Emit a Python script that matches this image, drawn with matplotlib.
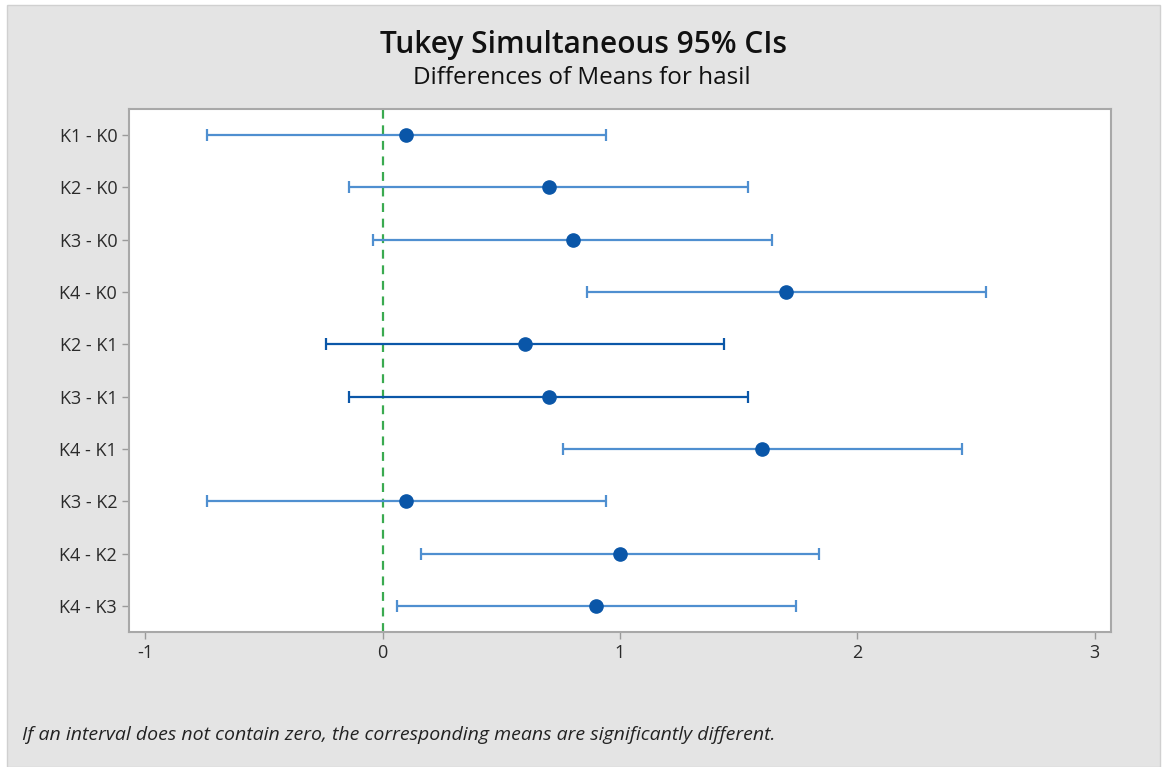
import numpy as np
import matplotlib.pyplot as plt
import matplotlib.patches as mpatches

plt.rcParams['font.family'] = ['Open Sans', 'DejaVu Sans']

# Tukey pairwise comparisons
pairs = ['K1 - K0', 'K2 - K0', 'K3 - K0', 'K4 - K0', 'K2 - K1',
         'K3 - K1', 'K4 - K1', 'K3 - K2', 'K4 - K2', 'K4 - K3']
diff = [0.10, 0.70, 0.80, 1.70, 0.60, 0.70, 1.60, 0.10, 1.00, 0.90]
lower = [-0.74, -0.14, -0.04, 0.86, -0.24, -0.14, 0.76, -0.74, 0.16, 0.06]
upper = [0.94, 1.54, 1.64, 2.54, 1.44, 1.54, 2.44, 0.94, 1.84, 1.74]
line_dark = [False, False, False, False, True, True, False, False, False, False]
xticks = [-1, 0, 1, 2, 3]

fig = plt.figure(figsize=(11.63, 7.67), dpi=100, facecolor='white')
# grey panel behind the graph, like the Minitab window
fig.patches.append(mpatches.Rectangle((7/1163, 0), 1 - 10/1163, 1 - 5/767, transform=fig.transFigure,
                                      facecolor='#e4e4e4', edgecolor='#d0d0d0', lw=1, zorder=-10))

ax = fig.add_axes([129/1163, 1 - 632/767, (1111 - 129)/1163, (632 - 109)/767])
ax.set_facecolor('white')

y = np.arange(len(pairs))
for i in range(len(pairs)):
    col = '#0b57a8' if line_dark[i] else '#4f8fd0'
    ax.errorbar(diff[i], y[i], xerr=[[diff[i] - lower[i]], [upper[i] - diff[i]]],
                fmt='none', ecolor=col, elinewidth=1.6, capsize=4.5, capthick=1.6, zorder=2)
ax.plot(diff, y, 'o', color='#0a56a8', markersize=9.5, zorder=3)

ax.axvline(0, color='#3aaa50', lw=1.6, ls=(0, (4, 3)), zorder=1)

ax.set_xlim(-1.068, 3.068)
ax.set_ylim(len(pairs) - 0.5, -0.5)
ax.set_yticks(y)
ax.set_yticklabels(pairs)
ax.set_xticks(xticks)
ax.set_xticklabels([str(t) for t in xticks])
ax.tick_params(colors='#9a9a9a', labelcolor='#2a2a2a', labelsize=13, length=5, width=1)
for s in ax.spines.values():
    s.set_color('#a8a8a8')
    s.set_linewidth(1.5)

fig.text(584/1163, 1 - 45/767, 'Tukey Simultaneous 95% CIs', ha='center', va='center',
         fontsize=21.5, fontweight='semibold', color='#111111')
fig.text(582/1163, 1 - 78/767, 'Differences of Means for hasil', ha='center', va='center',
         fontsize=17.5, color='#111111')
fig.text(22/1163, 1 - 735/767,
         'If an interval does not contain zero, the corresponding means are significantly different.',
         ha='left', va='center', fontsize=14, style='italic', color='#222222')

fig.savefig('out.png', dpi=100)
